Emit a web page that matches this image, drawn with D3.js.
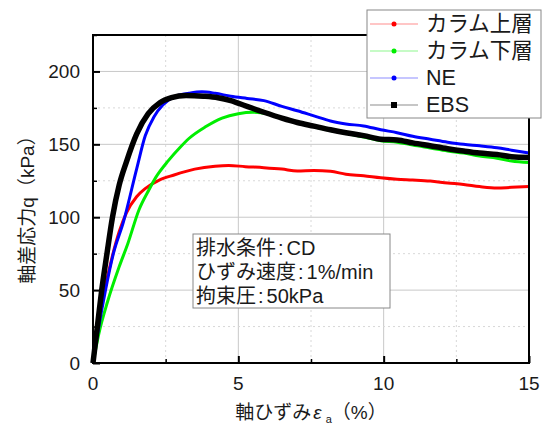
<!DOCTYPE html>
<html>
<head>
<meta charset="utf-8">
<script src="https://cdn.jsdelivr.net/npm/d3@7"></script>
<style>
  body { margin: 0; background: #fff; }
  svg { display: block; }
</style>
</head>
<body>
<div id="chart"></div>
<script>
// series names (legend order)
var seriesNames = ["カラム上層", "カラム下層", "NE", "EBS"];
var seriesColors = ["#ff0000", "#00ee00", "#0000ff", "#000000"];

// axial strain (%) / deviator stress q (kPa)
var redX = [0, 0.15, 0.4, 0.65, 0.9, 1.15, 1.5, 1.82, 2.28, 2.79, 3.5, 4.2, 4.67, 5.24, 5.88, 6.5, 7.03, 7.6, 8.17, 8.7, 9.31, 9.9, 10.46, 11.0, 11.6, 12.2, 12.75, 13.3, 13.9, 14.4, 15];
var redQ = [0, 22, 50, 72, 90, 103, 114, 120, 125.5, 129, 133, 135, 135.5, 134.7, 134, 133, 131.7, 132, 131.5, 129.5, 128.4, 127, 126, 125.5, 124.8, 123.5, 122.5, 121, 120, 120.5, 121];

var greenX = [0, 0.2, 0.5, 0.9, 1.2, 1.58, 1.93, 2.15, 2.6, 3.0, 3.3, 3.87, 4.44, 5.0, 5.5, 6.0, 6.5, 7.03, 7.6, 8.17, 8.7, 9.31, 9.9, 10.46, 11.0, 11.6, 12.2, 12.75, 13.3, 13.9, 14.4, 15];
var greenQ = [0, 20, 42, 66, 82, 105, 119, 127, 139, 148, 154, 162, 168, 171, 172, 171, 168, 165, 162, 159.5, 157.5, 155, 152.5, 151.5, 149.5, 147.5, 145.5, 144, 142, 140.5, 138.5, 137.5];

var blueX = [0, 0.2, 0.43, 0.7, 1.05, 1.5, 1.8, 2.1, 2.4, 2.84, 3.3, 3.75, 4.2, 4.74, 5.3, 5.88, 6.5, 7.03, 7.6, 8.17, 8.7, 9.31, 9.9, 10.46, 11.0, 11.6, 12.2, 12.75, 13.3, 13.9, 14.4, 15];
var blueQ = [0, 25, 50, 75, 97, 133, 156, 169, 177, 183, 185, 186, 185, 183, 181.5, 180, 176, 173, 169.5, 166, 164, 162.6, 160, 158, 155.5, 153.5, 151.5, 150, 149, 147.7, 146, 144];

var blackX = [0, 0.15, 0.3, 0.48, 0.67, 0.9, 1.15, 1.5, 1.9, 2.3, 2.7, 3.2, 3.8, 4.3, 4.74, 5.3, 5.88, 6.5, 7.03, 7.6, 8.17, 8.7, 9.31, 9.9, 10.46, 11.0, 11.6, 12.2, 12.75, 13.3, 13.9, 14.4, 15];
var blackQ = [0, 25, 50, 75, 100, 122, 138, 157, 171, 178.5, 182, 183.5, 183, 182, 180, 176, 172, 168, 165, 162.5, 160, 158, 156, 153.5, 153, 151, 149, 147, 145.4, 144, 143, 141.5, 141];

// ticks
var xTicks = [0, 5, 10, 15];
var xMinor = [2.5, 7.5, 12.5];
var yTicks = [0, 50, 100, 150, 200];
var yMinor = [25, 75, 125, 175, 225];

var condLines = ["排水条件:CD", "ひずみ速度:1%/min", "拘束圧:50kPa"];

var width = 545, height = 426;
var plotL = 93, plotR = 529, plotT = 35, plotB = 363;
var font = "'Liberation Sans', 'Noto Sans CJK JP', sans-serif";

var svg = d3.select("#chart").append("svg")
  .attr("width", width)
  .attr("height", height);

var x = d3.scaleLinear().domain([0, 15]).range([plotL, plotR]);
var y = d3.scaleLinear().domain([0, 225]).range([plotB, plotT]);

// grid
var grid = svg.append("g");
grid.selectAll(".gx").data(xTicks.slice(1, -1)).enter().append("line")
  .attr("x1", d => x(d)).attr("x2", d => x(d))
  .attr("y1", plotT).attr("y2", plotB)
  .attr("stroke", "#c8c8c8").attr("stroke-width", 1);
grid.selectAll(".gy").data(yTicks.slice(1)).enter().append("line")
  .attr("x1", plotL).attr("x2", plotR)
  .attr("y1", d => y(d)).attr("y2", d => y(d))
  .attr("stroke", "#c8c8c8").attr("stroke-width", 1);
grid.selectAll(".mx").data(xMinor).enter().append("line")
  .attr("x1", d => x(d)).attr("x2", d => x(d))
  .attr("y1", plotT).attr("y2", plotB)
  .attr("stroke", "#d8d8d8").attr("stroke-dasharray", "2,3");
grid.selectAll(".my").data(yMinor.filter(d => d < 225)).enter().append("line")
  .attr("x1", plotL).attr("x2", plotR)
  .attr("y1", d => y(d)).attr("y2", d => y(d))
  .attr("stroke", "#d8d8d8").attr("stroke-dasharray", "2,3");

// curves
var allX = [redX, greenX, blueX, blackX];
var allQ = [redQ, greenQ, blueQ, blackQ];
var widths = [3, 3, 3, 5.5];

var line = d3.line()
  .x(d => x(d[0]))
  .y(d => y(d[1]))
  .curve(d3.curveMonotoneX);

for (let i = 0; i < 4; i++) {
  var pts = allX[i].map((v, j) => [v, allQ[i][j]]);
  svg.append("path")
    .datum(pts)
    .attr("fill", "none")
    .attr("stroke", seriesColors[i])
    .attr("stroke-width", widths[i])
    .attr("stroke-linejoin", "round")
    .attr("d", line);
}

// frame
svg.append("rect")
  .attr("x", plotL).attr("y", plotT)
  .attr("width", plotR - plotL).attr("height", plotB - plotT)
  .attr("fill", "none").attr("stroke", "#000").attr("stroke-width", 2);

// inward ticks
svg.append("g").attr("transform", "translate(0," + plotB + ")")
  .call(d3.axisTop(x).tickValues(xTicks).tickSize(7).tickFormat(""))
  .call(g => g.select(".domain").remove())
  .selectAll("line").attr("stroke-width", 2);
svg.append("g").attr("transform", "translate(0," + plotB + ")")
  .call(d3.axisTop(x).tickValues(xMinor).tickSize(4).tickFormat(""))
  .call(g => g.select(".domain").remove())
  .selectAll("line").attr("stroke-width", 1.5);
svg.append("g").attr("transform", "translate(" + plotL + ",0)")
  .call(d3.axisRight(y).tickValues(yTicks).tickSize(7).tickFormat(""))
  .call(g => g.select(".domain").remove())
  .selectAll("line").attr("stroke-width", 2);
svg.append("g").attr("transform", "translate(" + plotL + ",0)")
  .call(d3.axisRight(y).tickValues(yMinor).tickSize(4).tickFormat(""))
  .call(g => g.select(".domain").remove())
  .selectAll("line").attr("stroke-width", 1.5);

// tick labels
svg.append("g").selectAll("text").data(xTicks).enter().append("text")
  .attr("x", d => x(d)).attr("y", plotB + 20)
  .attr("text-anchor", "middle").attr("dominant-baseline", "central")
  .attr("font-family", font).attr("font-size", 19)
  .attr("fill", "#1a1a1a")
  .text(d => d);
svg.append("g").selectAll("text").data(yTicks).enter().append("text")
  .attr("x", plotL - 13).attr("y", d => y(d))
  .attr("text-anchor", "end").attr("dominant-baseline", "central")
  .attr("font-family", font).attr("font-size", 19)
  .attr("fill", "#1a1a1a")
  .text(d => d);

// axis titles
var xt = svg.append("text")
  .attr("x", 311).attr("y", 412)
  .attr("text-anchor", "middle").attr("dominant-baseline", "central")
  .attr("font-family", font).attr("font-size", 19).attr("fill", "#1a1a1a");
xt.append("tspan").text("軸ひずみ");
xt.append("tspan").attr("font-style", "italic").attr("dx", 2).text("ε");
xt.append("tspan").attr("font-size", 11).attr("dy", 7).attr("dx", 4).text("a");
xt.append("tspan").attr("dy", -7).text("（%）");

svg.append("text")
  .attr("transform", "translate(27," + 205 + ") rotate(-90)")
  .attr("text-anchor", "middle").attr("dominant-baseline", "central")
  .attr("font-family", font).attr("font-size", 19).attr("fill", "#1a1a1a")
  .text("軸差応力q（kPa）");

// condition box
svg.append("rect")
  .attr("x", 193).attr("y", 234).attr("width", 197).attr("height", 74)
  .attr("fill", "#fff").attr("stroke", "#888").attr("stroke-width", 1);
var cond = svg.append("g").selectAll("text").data(condLines).enter().append("text")
  .attr("x", 196).attr("y", (d, i) => 248 + i * 24)
  .attr("dominant-baseline", "central")
  .attr("font-family", font).attr("font-size", 20).attr("fill", "#1a1a1a");
cond.append("tspan").text(d => d.split(":")[0]);
cond.append("tspan").attr("dx", 2).text(":");
cond.append("tspan").attr("dx", 3).text(d => d.split(":")[1]);

// legend
var lg = svg.append("g");
lg.append("rect")
  .attr("x", 367).attr("y", 10).attr("width", 174).attr("height", 108)
  .attr("fill", "#fff").attr("stroke", "#888").attr("stroke-width", 1);
seriesNames.forEach(function(name, i) {
  var ly = 24 + i * 27;
  lg.append("line")
    .attr("x1", 370).attr("x2", 418).attr("y1", ly).attr("y2", ly)
    .attr("stroke", seriesColors[i]).attr("stroke-opacity", 0.45).attr("stroke-width", 1);
  if (i < 3) {
    lg.append("circle").attr("cx", 394).attr("cy", ly).attr("r", 2.5).attr("fill", seriesColors[i]);
  } else {
    lg.append("rect").attr("x", 391).attr("y", ly - 3).attr("width", 6).attr("height", 6).attr("fill", "#000");
  }
  lg.append("text")
    .attr("x", 426).attr("y", ly)
    .attr("dominant-baseline", "central")
    .attr("font-family", font).attr("font-size", 21.5).attr("fill", "#1a1a1a")
    .text(name);
});
</script>
</body>
</html>
